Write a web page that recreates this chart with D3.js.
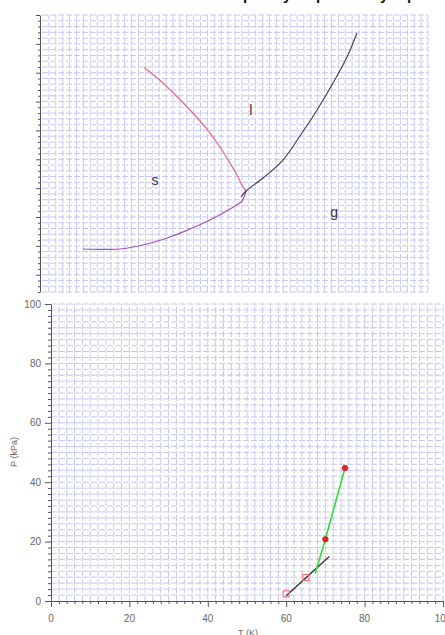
<!DOCTYPE html>
<html>
<head>
<meta charset="utf-8">
<script src="https://cdn.jsdelivr.net/npm/d3@7"></script>
<style>
  body { margin: 0; background: #fff; }
  svg { display: block; font-family: 'Liberation Sans', Arial, sans-serif; }
</style>
</head>
<body>
<div id="chart"></div>
<script>
// Top panel: phase diagram curves (arbitrary T/P units)
const meltT = [14.8, 17.55, 21.47, 23.79, 26.11, 27.27, 28.29, 29.16, 29.6];
const meltP = [40.9, 38.22, 33.54, 30.42, 26.61, 24.35, 22.27, 20.19, 19.5];
const vapT = [28.87, 29.6, 32.06, 34.96, 37.43, 39.9, 42.22, 44.25, 45.7];
const vapP = [18.46, 19.5, 21.75, 24.87, 29.03, 33.54, 38.22, 42.72, 46.88];
const subT = [5.95, 11.32, 14.65, 18.57, 21.47, 24.37, 27.27, 28.43, 29.02, 29.31, 29.6];
const subP = [9.45, 9.45, 10.14, 11.53, 12.92, 14.48, 16.38, 17.25, 17.77, 18.46, 19.5];
const phaseNames = ['s', 'l', 'g'];
const phaseT = [16.4, 30.3, 42.4];
const phaseP = [21.4, 33.5, 15.9];

// Bottom panel: P (kPa) against T (K)
const blackT = [60, 71];
const blackP = [1.8, 15];
const greenT = [67.4, 70, 75];
const greenP = [9.3, 20.8, 44.8];
const squareT = [60, 65];
const squareP = [2.4, 7.9];
const dotT = [70, 75];
const dotP = [20.8, 44.8];
const xTicks = [0, 20, 40, 60, 80, 100];
const yTicks = [0, 20, 40, 60, 80, 100];

// Cropped caption at the very top
const captionBits = ['p', 'yo', 'p', 'yo', 'q'];
const captionX = [243, 283, 316, 380, 402];

const svg = d3.select('#chart').append('svg')
    .attr('width', 445)
    .attr('height', 635);

const gridColor = '#c6c6f4';
const axisColor = '#555';

function drawGrid(g, x, y, xs, ys) {
    g.append('g').selectAll('line').data(xs).enter().append('line')
        .attr('x1', d => x(d)).attr('x2', d => x(d))
        .attr('y1', y.range()[0]).attr('y2', y.range()[1])
        .attr('stroke', gridColor).attr('stroke-width', 1)
        .attr('stroke-dasharray', '6,2');
    g.append('g').selectAll('line').data(ys).enter().append('line')
        .attr('y1', d => y(d)).attr('y2', d => y(d))
        .attr('x1', x.range()[0]).attr('x2', x.range()[1])
        .attr('stroke', gridColor).attr('stroke-width', 1)
        .attr('stroke-dasharray', '6,2');
}

// caption (clipped by the window top, as in the source image)
svg.append('g').selectAll('text').data(captionBits).enter().append('text')
    .attr('x', (d, i) => captionX[i])
    .attr('y', -0.5)
    .attr('font-size', 15)
    .attr('font-weight', 'bold')
    .attr('fill', '#111')
    .text(d => d);

// ---------- top panel ----------
const xTop = d3.scaleLinear().domain([0, 56]).range([42, 428]);
const yTop = d3.scaleLinear().domain([2, 50]).range([292, 15]);
const topG = svg.append('g');

drawGrid(topG, xTop, yTop, d3.range(1, 57), d3.range(2, 51));

const topAxis = d3.axisLeft(yTop)
    .tickValues(d3.range(2, 51))
    .tickSize(0)
    .tickFormat('');
const topAxisG = topG.append('g')
    .attr('transform', 'translate(40,0)')
    .call(topAxis);
topAxisG.select('.domain').attr('stroke', axisColor);
topAxisG.selectAll('.tick line')
    .attr('x2', d => d % 5 === 0 ? -4 : -2)
    .attr('stroke', axisColor);

const lineTop = d3.line()
    .x(d => xTop(d[0]))
    .y(d => yTop(d[1]))
    .curve(d3.curveCatmullRom);

topG.append('path')
    .datum(subT.map((t, i) => [t, subP[i]]))
    .attr('d', lineTop)
    .attr('fill', 'none')
    .attr('stroke', '#a452b4')
    .attr('stroke-width', 1.2);

topG.append('path')
    .datum(meltT.map((t, i) => [t, meltP[i]]))
    .attr('d', lineTop)
    .attr('fill', 'none')
    .attr('stroke', '#e2688a')
    .attr('stroke-width', 1.2);

topG.append('path')
    .datum(vapT.map((t, i) => [t, vapP[i]]))
    .attr('d', lineTop)
    .attr('fill', 'none')
    .attr('stroke', '#3a3a48')
    .attr('stroke-width', 1.1);

topG.append('g').selectAll('text').data(phaseNames).enter().append('text')
    .attr('x', (d, i) => xTop(phaseT[i]))
    .attr('y', (d, i) => yTop(phaseP[i]))
    .attr('dy', '0.35em')
    .attr('text-anchor', 'middle')
    .attr('font-size', 14)
    .attr('fill', '#333')
    .text(d => d);

// ---------- bottom panel ----------
const x = d3.scaleLinear().domain([0, 100]).range([51, 443]);
const y = d3.scaleLinear().domain([0, 100]).range([601, 304]);
const bot = svg.append('g');

drawGrid(bot, x, y, d3.range(2, 101, 2), d3.range(2, 101, 2));

const xAxis = d3.axisBottom(x).tickValues(d3.range(0, 101, 2)).tickSize(0).tickFormat('');
const xAxisG = bot.append('g').attr('transform', 'translate(0,601)').call(xAxis);
xAxisG.select('.domain').attr('stroke', axisColor);
xAxisG.selectAll('.tick line')
    .attr('y2', d => d % 20 === 0 ? 6 : 3)
    .attr('stroke', axisColor);

const yAxis = d3.axisLeft(y).tickValues(d3.range(0, 101, 2)).tickSize(0).tickFormat('');
const yAxisG = bot.append('g').attr('transform', 'translate(51,0)').call(yAxis);
yAxisG.select('.domain').attr('stroke', axisColor);
yAxisG.selectAll('.tick line')
    .attr('x2', d => d % 20 === 0 ? -6 : -3)
    .attr('stroke', axisColor);

bot.append('g').selectAll('text').data(xTicks).enter().append('text')
    .attr('x', d => x(d))
    .attr('y', 622)
    .attr('text-anchor', 'middle')
    .attr('font-size', 10)
    .attr('fill', '#666')
    .text(d => d);

bot.append('g').selectAll('text').data(yTicks).enter().append('text')
    .attr('x', 41)
    .attr('y', d => y(d))
    .attr('dy', '0.35em')
    .attr('text-anchor', 'end')
    .attr('font-size', 10)
    .attr('fill', '#666')
    .text(d => d);

bot.append('text')
    .attr('x', 248)
    .attr('y', 636)
    .attr('text-anchor', 'middle')
    .attr('font-size', 9)
    .attr('fill', '#666')
    .text('T (K)');

bot.append('text')
    .attr('transform', 'translate(17,452) rotate(-90)')
    .attr('text-anchor', 'middle')
    .attr('font-size', 9)
    .attr('fill', '#666')
    .text('P (kPa)');

const line = d3.line().x(d => x(d[0])).y(d => y(d[1]));

bot.append('path')
    .datum(blackT.map((t, i) => [t, blackP[i]]))
    .attr('d', line)
    .attr('fill', 'none')
    .attr('stroke', '#333')
    .attr('stroke-width', 1.4);

bot.append('path')
    .datum(greenT.map((t, i) => [t, greenP[i]]))
    .attr('d', line)
    .attr('fill', 'none')
    .attr('stroke', '#2ee02e')
    .attr('stroke-width', 1.6);

bot.append('g').selectAll('rect').data(squareT).enter().append('rect')
    .attr('x', (d, i) => x(d) - 3)
    .attr('y', (d, i) => y(squareP[i]) - 3)
    .attr('width', 6)
    .attr('height', 6)
    .attr('fill', 'none')
    .attr('stroke', '#f07878')
    .attr('stroke-width', 1.2);

bot.append('g').selectAll('circle').data(dotT).enter().append('circle')
    .attr('cx', d => x(d))
    .attr('cy', (d, i) => y(dotP[i]))
    .attr('r', 2.8)
    .attr('fill', '#e8222a')
    .attr('stroke', '#b01010')
    .attr('stroke-width', 0.6);
</script>
</body>
</html>
